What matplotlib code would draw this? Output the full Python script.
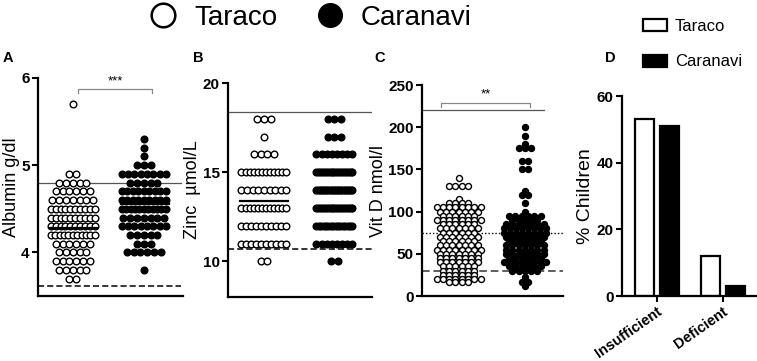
import numpy as np
import matplotlib.pyplot as plt
from matplotlib.lines import Line2D
from matplotlib.patches import Patch

plt.rcParams['font.family'] = ['Liberation Sans', 'DejaVu Sans']
plt.rcParams['font.weight'] = 'bold'  # tick labels are bold in the figure

# ---- data (value levels and how many children sit at each level) ----
alb_tar_vals = [5.7, 4.9, 4.8, 4.7, 4.6, 4.5, 4.4, 4.3, 4.2, 4.1, 4.0, 3.9, 3.8, 3.7]
alb_tar_n = [1, 2, 5, 6, 7, 10, 10, 10, 11, 6, 5, 6, 5, 2]
alb_car_vals = [5.3, 5.2, 5.1, 5.0, 4.9, 4.8, 4.7, 4.6, 4.5, 4.4, 4.3, 4.2, 4.1, 4.0, 3.8]
alb_car_n = [1, 1, 1, 3, 8, 5, 9, 9, 11, 7, 8, 5, 3, 6, 1]
alb_means = [4.28, 4.55]

zn_tar_vals = [18, 17, 16, 15, 14, 13, 12, 11, 10]
zn_tar_n = [3, 1, 4, 12, 9, 12, 10, 10, 2]
zn_car_vals = [18, 17, 16, 15, 14, 13, 12, 11, 10]
zn_car_n = [3, 3, 8, 20, 24, 20, 16, 8, 2]
zn_means = [13.38, 13.83]

vd_tar_vals = [140, 130, 115, 110, 105, 100, 95, 90, 85, 80, 75, 70, 65, 60, 55,
               50, 45, 40, 35, 30, 25, 20, 17]
vd_tar_n = [1, 4, 1, 4, 8, 7, 6, 8, 6, 7, 6, 7, 6, 7, 8, 7, 7, 7, 6, 6, 6, 8, 4]
vd_car_vals = [200, 190, 180, 175, 160, 150, 125, 120, 110, 100, 95, 90, 85, 80,
               75, 70, 65, 60, 55, 50, 45, 40, 35, 30, 22, 17, 12]
vd_car_n = [1, 1, 1, 3, 2, 2, 1, 2, 1, 1, 6, 5, 7, 8, 8, 7, 6, 7, 7, 7, 6, 8, 6, 5, 1, 2, 1]

categories = ['Insufficient', 'Deficient']
pct_taraco = [53, 12]
pct_caranavi = [51, 3]

W, H = 757, 361
fig = plt.figure(figsize=(W / 100, H / 100), dpi=100)


def style_axes(ax, yticks):
    for s in ['top', 'right']:
        ax.spines[s].set_visible(False)
    for s in ['left', 'bottom']:
        ax.spines[s].set_linewidth(1.6)
    ax.tick_params(axis='y', length=4, width=1.5, pad=2, labelsize=11)
    ax.set_yticks(yticks)


def swarm(ax, xc, vals, counts, d_px, maxw_px, filled, ms=4.8):
    ax_w = ax.get_position().width * W
    for v, n in zip(vals, counts):
        step = d_px if n == 1 else min(d_px, maxw_px / (n - 1))
        offs = (np.arange(n) - (n - 1) / 2) * step / ax_w
        ax.scatter(xc + offs, np.full(n, v), s=ms ** 2,
                   facecolor='black' if filled else 'white',
                   edgecolor='black', linewidth=1.0, zorder=3)


def mean_bar(ax, xc, y, half_px):
    ax_w = ax.get_position().width * W
    h = half_px / ax_w
    ax.plot([xc - h, xc + h], [y, y], color='black', lw=1.6, zorder=4)


def bracket(ax, x0, x1, y, dy, stars):
    ax.plot([x0, x0, x1, x1], [y - dy, y, y, y - dy], color='#888888', lw=0.9, clip_on=False)
    ax.text((x0 + x1) / 2, y + dy * 0.6, stars, ha='center', va='bottom',
            fontsize=9.5, fontweight='normal')


# ---- A: albumin ----
axA = fig.add_axes([0.0502, 0.180, 0.1915, 0.604])
axA.set_xlim(0, 1)
axA.set_ylim(3.5, 6)
axA.set_xticks([])
axA.axhline(4.8, 0, 0.985, color='#555555', lw=0.9)
axA.axhline(3.62, 0, 0.985, color='black', lw=1.1, ls=(0, (4, 2)))
swarm(axA, 0.24, alb_tar_vals, alb_tar_n, 6.8, 44, False)
swarm(axA, 0.73, alb_car_vals, alb_car_n, 6.8, 44, True)
mean_bar(axA, 0.24, alb_means[0], 24)
mean_bar(axA, 0.74, alb_means[1], 24)
bracket(axA, 0.276, 0.786, 5.87, 0.04, '***')
axA.set_ylabel('Albumin g/dl', fontsize=13, labelpad=1, fontweight='normal')
style_axes(axA, [4, 5, 6])

# ---- B: zinc ----
axB = fig.add_axes([0.3012, 0.177, 0.190, 0.593])
axB.set_xlim(0, 1)
axB.set_ylim(8, 20)
axB.set_xticks([])
axB.axhline(18.38, color='#555555', lw=0.9)
axB.axhline(10.67, color='black', lw=1.1, ls=(0, (4, 2)))
swarm(axB, 0.25, zn_tar_vals, zn_tar_n, 6.8, 45, False)
swarm(axB, 0.74, zn_car_vals, zn_car_n, 6.8, 36, True)
mean_bar(axB, 0.25, zn_means[0], 24)
mean_bar(axB, 0.74, zn_means[1], 19)
axB.set_ylabel('Zinc  µmol/L', fontsize=13, labelpad=1, fontweight='normal')
style_axes(axB, [10, 15, 20])

# ---- C: vitamin D ----
axC = fig.add_axes([0.5575, 0.180, 0.186, 0.5845])
axC.set_xlim(0, 1)
axC.set_ylim(0, 250)
axC.set_xticks([])
axC.axhline(220, 0, 0.865, color='#555555', lw=0.9)
axC.axhline(75, color='black', lw=1.0, ls=(0, (1, 1.5)))
axC.axhline(30, color='#333333', lw=1.1, ls=(0, (5, 2.5)))
swarm(axC, 0.26, vd_tar_vals, vd_tar_n, 6.3, 46, False, ms=4.3)
swarm(axC, 0.73, vd_car_vals, vd_car_n, 6.3, 42, True, ms=4.3)
bracket(axC, 0.135, 0.766, 229, 5, '**')
axC.set_ylabel('Vit D nmol/l', fontsize=13, labelpad=1, fontweight='normal')
style_axes(axC, [0, 50, 100, 150, 200, 250])

# ---- D: % children ----
axD = fig.add_axes([0.8217, 0.180, 0.178, 0.554])
x = np.arange(len(categories))
axD.bar(x - 0.19, pct_taraco, 0.29, facecolor='white', edgecolor='black', linewidth=1.6)
axD.bar(x + 0.19, pct_caranavi, 0.29, facecolor='black', edgecolor='black', linewidth=1.6)
axD.set_xlim(-0.53, 1.52)
axD.set_ylim(0, 60)
axD.set_xticks(x)
axD.set_xticklabels(categories, rotation=35, ha='right', rotation_mode='anchor', fontsize=10.5)
axD.tick_params(axis='x', length=4, width=1.5, pad=2)
axD.set_ylabel('% Children', fontsize=14, labelpad=2, fontweight='normal')
style_axes(axD, [0, 20, 40, 60])

fig.legend(handles=[Patch(facecolor='white', edgecolor='black', linewidth=1.6, label='Taraco'),
                    Patch(facecolor='black', edgecolor='black', linewidth=1.6, label='Caranavi')],
           loc='upper left', bbox_to_anchor=(0.829, 0.99), frameon=False,
           prop={'size': 12, 'weight': 'normal'},
           handlelength=1.45, handleheight=0.75, labelspacing=1.25, handletextpad=0.5)

# ---- top legend ----
fig.legend(handles=[Line2D([], [], ls='none', marker='o', ms=17, mfc='white', mec='black', mew=1.8, label='Taraco'),
                    Line2D([], [], ls='none', marker='o', ms=17, mfc='black', mec='black', label='Caranavi')],
           loc='upper center', bbox_to_anchor=(0.41, 1.055), ncol=2, frameon=False,
           prop={'size': 20, 'weight': 'normal'},
           handlelength=1.0, handletextpad=0.6, columnspacing=1.4)

# panel letters
for lbl, (px, py) in zip('ABCD', [(8, 58), (198, 58), (380, 58), (610, 58)]):
    fig.text(px / W, 1 - py / H, lbl, fontsize=10.5, ha='center', va='center')

fig.savefig('out.png', dpi=100)
